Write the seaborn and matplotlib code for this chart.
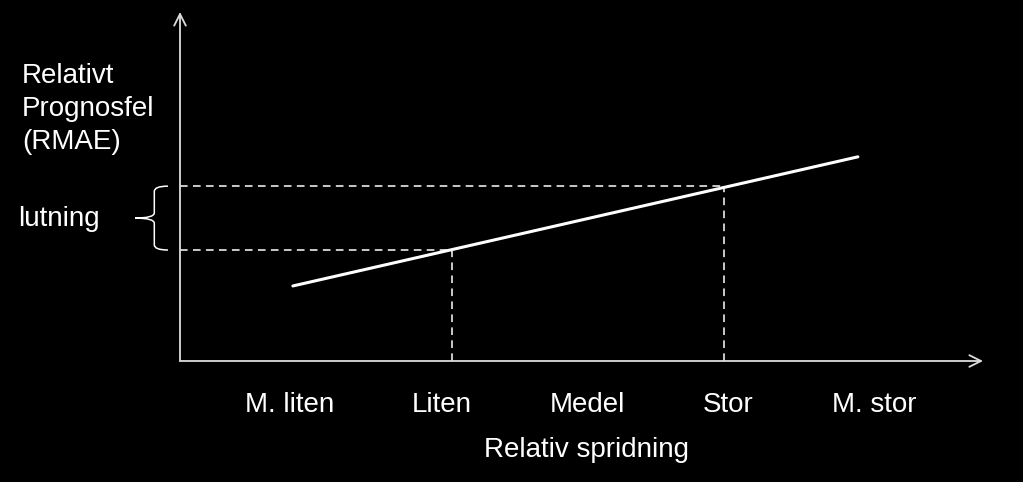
import numpy as np
import pandas as pd
import matplotlib
matplotlib.use("Agg")
import matplotlib.pyplot as plt
from matplotlib.path import Path
from matplotlib.patches import PathPatch
import matplotlib.transforms as mtransforms
import seaborn as sns

# category axis (x) and the sketched trend line
categories = ["M. liten", "Liten", "Medel", "Stor", "M. stor"]
cat_pos = [0, 1.04, 2.04, 3.0, 4.0]
line_x = [0.02, 3.89]
line_y = [2.15, 5.85]

# the two reference points (x, RMAE)
ref_x = [1.11, 2.97]
ref_y = [3.18, 5.01]

x_min, x_max = -0.753, 4.747
y_min, y_max = 0, 10

sns.set_theme(style="dark", rc={"axes.facecolor": "black", "figure.facecolor": "black"})
plt.rcParams["font.family"] = ["Liberation Sans", "DejaVu Sans"]
FS = 20

fig = plt.figure(figsize=(10.23, 4.82), dpi=100)
ax = fig.add_axes([180 / 1023, 121 / 482, 803 / 1023, 349 / 482])

df = pd.DataFrame({"x": line_x, "y": line_y})
sns.lineplot(data=df, x="x", y="y", ax=ax, color="white", linewidth=2.2)

# dashed guides from the line down to the x axis and across to the y axis
for rx, ry in zip(ref_x, ref_y):
    ax.plot([x_min, rx], [ry, ry], color="white", lw=1.1, ls=(0, (5, 3.5)))
    ax.plot([rx, rx], [y_min, ry], color="white", lw=1.1, ls=(0, (5, 3.5)))

ax.set_xlim(x_min, x_max)
ax.set_ylim(y_min, y_max)
ax.grid(False)
for s in ax.spines.values():
    s.set_visible(False)

# axes drawn as arrows
arrow = dict(arrowstyle="->,head_length=0.7,head_width=0.35", color="#dddddd", lw=1.3,
             shrinkA=0, shrinkB=0)
ax.annotate("", xy=(1, 0), xytext=(0, 0), xycoords="axes fraction", arrowprops=arrow,
            annotation_clip=False)
ax.annotate("", xy=(0, 1), xytext=(0, 0), xycoords="axes fraction", arrowprops=arrow,
            annotation_clip=False)

ax.set_xticks(cat_pos)
ax.set_xticklabels(categories, color="white", fontsize=FS)
ax.tick_params(axis="x", length=0, pad=22.5)
ax.set_yticks([])
ax.set_xlabel("Relativ spridning", color="white", fontsize=FS)
ax.xaxis.set_label_coords(0.506, -0.217)
ax.set_ylabel("")

fig.text(22 / 1023, 1 - 63 / 482, "Relativt\nPrognosfel\n(RMAE)", color="white",
         fontsize=FS, ha="left", va="top", linespacing=1.34)

# curly brace marking the slope between the two reference levels
trans = mtransforms.blended_transform_factory(ax.transAxes, ax.transData)
xe, xm, xt = -0.015, -0.032, -0.056
yt, yb = ref_y[1], ref_y[0]
ym = (yt + yb) / 2
r = 0.15
verts = [(xe, yt), (xm, yt), (xm, yt - r), (xm, ym + r), (xm, ym), (xt, ym),
         (xm, ym), (xm, ym - r), (xm, yb + r), (xm, yb), (xe, yb)]
codes = [Path.MOVETO, Path.CURVE3, Path.CURVE3, Path.LINETO, Path.CURVE3, Path.CURVE3,
         Path.CURVE3, Path.CURVE3, Path.LINETO, Path.CURVE3, Path.CURVE3]
ax.add_patch(PathPatch(Path(verts, codes), transform=trans, fill=False, ec="white",
                       lw=1.1, clip_on=False))
fig.text(18 / 1023, 1 - 219 / 482, "lutning", color="white", fontsize=FS,
         ha="left", va="center")

fig.savefig("out.png", dpi=100, facecolor="black")
